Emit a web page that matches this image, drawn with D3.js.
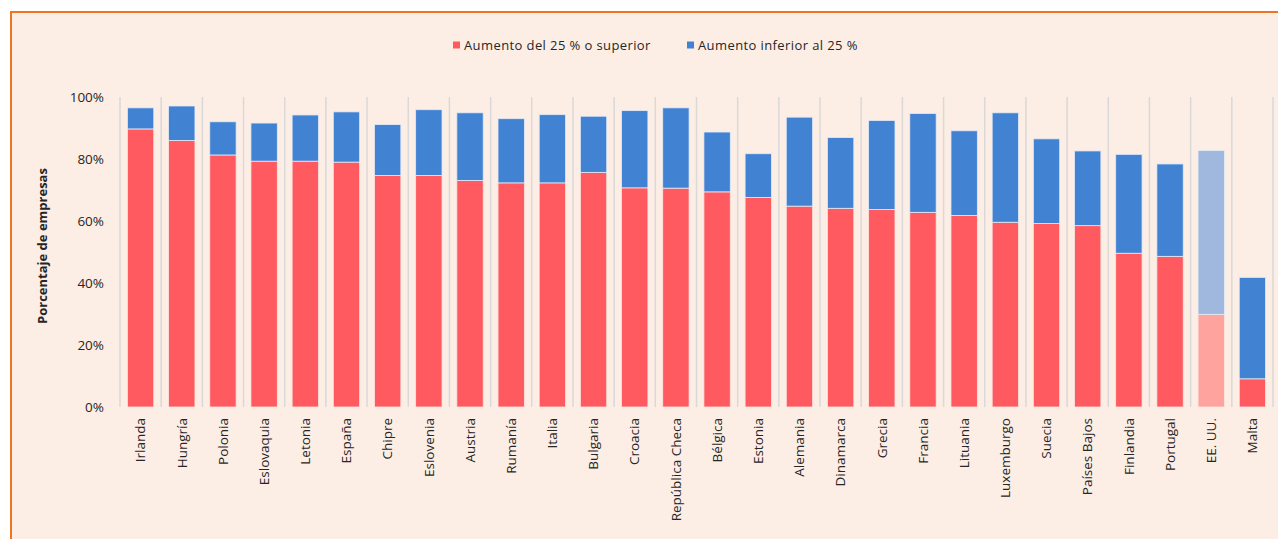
<!DOCTYPE html>
<html>
<head>
<meta charset="utf-8">
<script src="https://cdn.jsdelivr.net/npm/d3@7"></script>
<style>
  html, body { margin: 0; padding: 0; background: #fff; }
  svg { display: block; font-family: "Open Sans", "Noto Sans", sans-serif; }
</style>
</head>
<body>
<div id="main"></div>
<script>
// data (share of firms, %)
const countries = ["Irlanda", "Hungría", "Polonia", "Eslovaquia", "Letonia", "España", "Chipre",
  "Eslovenia", "Austria", "Rumanía", "Italia", "Bulgaria", "Croacia", "República Checa", "Bélgica",
  "Estonia", "Alemania", "Dinamarca", "Grecia", "Francia", "Lituania", "Luxemburgo", "Suecia",
  "Países Bajos", "Finlandia", "Portugal", "EE. UU.", "Malta"];

// "Aumento del 25 % o superior"
const high = [89.7, 86.0, 81.3, 79.3, 79.3, 79.0, 74.7, 74.7, 73.1, 72.3, 72.3, 75.7, 70.7, 70.6,
  69.4, 67.6, 64.8, 64.1, 63.7, 62.8, 61.8, 59.6, 59.2, 58.5, 49.6, 48.6, 29.9, 9.1];

// total height of each bar (high + low)
const total = [96.5, 97.1, 92.0, 91.6, 94.2, 95.2, 91.1, 95.9, 94.9, 93.0, 94.3, 93.8, 95.6, 96.5,
  88.7, 81.7, 93.5, 86.9, 92.4, 94.7, 89.1, 94.9, 86.5, 82.6, 81.5, 78.4, 82.7, 41.8];

const seriesNames = ["Aumento del 25 % o superior", "Aumento inferior al 25 %"];
const yTicks = [0, 20, 40, 60, 80, 100];

const width = 1278;
const height = 539;

const colors = { high: "#FF5A5F", low: "#4282D3", highFaded: "#FFA39E", lowFaded: "#A0B8DE" };

const svg = d3.select("#main").append("svg")
  .attr("width", width)
  .attr("height", height);

// frame
svg.append("rect")
  .attr("x", 11).attr("y", 12)
  .attr("width", width + 10).attr("height", height + 10)
  .attr("fill", "#FDEEE5")
  .attr("stroke", "#F07522")
  .attr("stroke-width", 2);

const xScale = d3.scaleBand()
  .domain(countries)
  .range([120, 1273])
  .paddingInner(0.36)
  .paddingOuter(0.18);

const yScale = d3.scaleLinear()
  .domain([0, 100])
  .range([407, 97]);

// vertical separators between categories
const step = xScale.step();
const bounds = d3.range(countries.length + 1).map(i => 120 + i * step);
svg.append("g")
  .selectAll("line")
  .data(bounds)
  .enter()
  .append("line")
  .attr("x1", d => d).attr("x2", d => d)
  .attr("y1", yScale(100)).attr("y2", yScale(0))
  .attr("stroke", "#D9D9D9")
  .attr("stroke-width", 1.5);

const rows = countries.map((c, i) => ({ c, high: high[i], low: total[i] - high[i], faded: c === "EE. UU." }));

// lower part
svg.append("g")
  .selectAll("rect")
  .data(rows)
  .enter()
  .append("rect")
  .attr("x", d => xScale(d.c))
  .attr("width", xScale.bandwidth())
  .attr("y", d => yScale(d.high))
  .attr("height", d => yScale(0) - yScale(d.high))
  .attr("fill", d => d.faded ? colors.highFaded : colors.high)
  .attr("stroke", "#FCE4E0")
  .attr("stroke-width", 0.8);

// upper part
svg.append("g")
  .selectAll("rect")
  .data(rows)
  .enter()
  .append("rect")
  .attr("x", d => xScale(d.c))
  .attr("width", xScale.bandwidth())
  .attr("y", d => yScale(d.high + d.low))
  .attr("height", d => yScale(d.high) - yScale(d.high + d.low))
  .attr("fill", d => d.faded ? colors.lowFaded : colors.low)
  .attr("stroke", "#E2EAF6")
  .attr("stroke-width", 0.8);

// y axis
const yAxis = d3.axisLeft(yScale)
  .tickValues(yTicks)
  .tickFormat(d => d + "%")
  .tickSize(0)
  .tickPadding(0);

svg.append("g")
  .attr("transform", "translate(104, 0)")
  .call(yAxis)
  .call(g => g.select(".domain").remove())
  .call(g => g.selectAll(".tick text")
    .attr("font-family", "'Open Sans', sans-serif")
    .attr("font-size", 13.5)
    .attr("fill", "#262626"));

// x axis, rotated labels
const xAxis = d3.axisBottom(xScale).tickSize(0).tickPadding(0);
svg.append("g")
  .attr("transform", `translate(0, ${yScale(0)})`)
  .call(xAxis)
  .call(g => g.select(".domain").remove())
  .call(g => g.selectAll(".tick text")
    .attr("font-family", "'Open Sans', sans-serif")
    .attr("font-size", 13.5)
    .attr("fill", "#262626")
    .attr("text-anchor", "end")
    .attr("transform", "rotate(-90)")
    .attr("x", -11)
    .attr("y", 0)
    .attr("dy", "0.35em"));

// y title
svg.append("text")
  .attr("transform", `translate(47, ${(yScale(0) + yScale(100)) / 2 - 6}) rotate(-90)`)
  .attr("text-anchor", "middle")
  .attr("font-size", 13)
  .attr("font-weight", "bold")
  .attr("fill", "#262626")
  .text("Porcentaje de empresas");

// legend
const legend = svg.append("g").attr("transform", "translate(453, 45)");
const legendX = [0, 234];
const legendColors = [colors.high, colors.low];
seriesNames.forEach((name, i) => {
  const item = legend.append("g").attr("transform", `translate(${legendX[i]}, 0)`);
  item.append("rect")
    .attr("x", 0).attr("y", -3.5)
    .attr("width", 7).attr("height", 7)
    .attr("fill", legendColors[i]);
  item.append("text")
    .attr("x", 11)
    .attr("dy", "0.35em")
    .attr("font-size", 13)
    .attr("letter-spacing", 0.4)
    .attr("fill", "#262626")
    .text(name);
});
</script>
</body>
</html>
